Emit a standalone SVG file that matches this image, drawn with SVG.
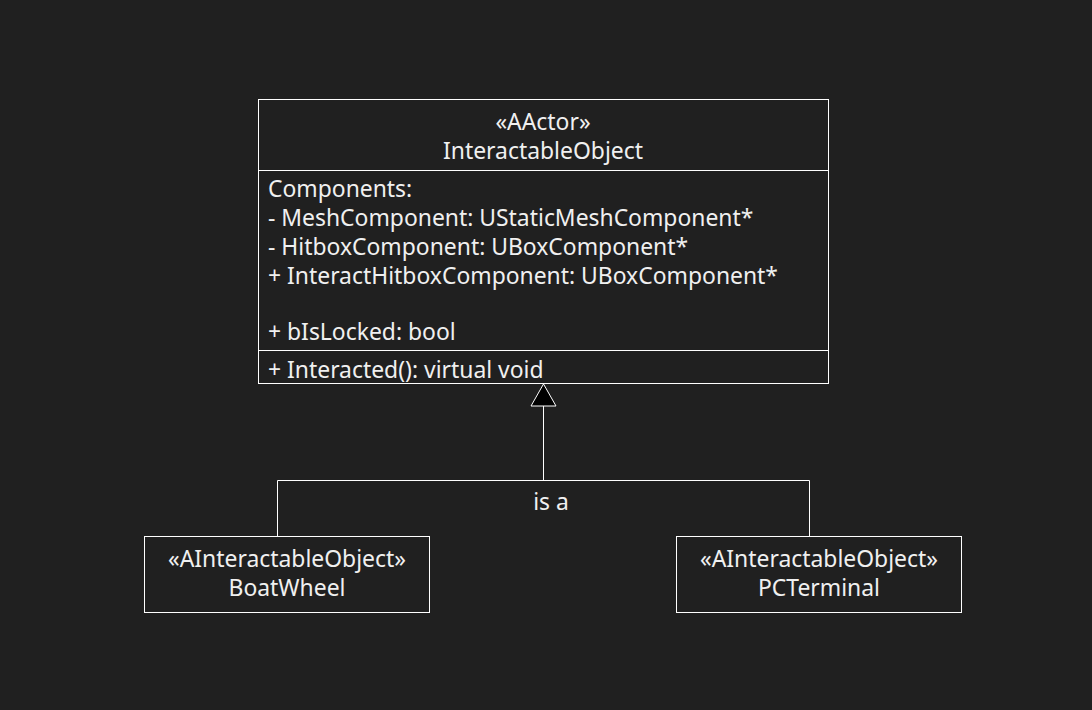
<svg xmlns="http://www.w3.org/2000/svg" width="1092" height="710" viewBox="0 0 1092 710">
<style>
.box{fill:#202020;stroke:#ffffff;stroke-width:1}
.t{font-family:"Noto Sans","Open Sans",sans-serif;font-size:22.9px;fill:#f0f0f0}
.c{text-anchor:middle}
.ln{stroke:#ffffff;stroke-width:1;fill:none}
</style>
<rect width="1092" height="710" fill="#202020"/>
<g id="connectors">
<path class="ln" d="M543.5,480 V406"/>
<path d="M543.5,384 L556,406 L531,406 Z" fill="#000000" stroke="#ffffff" stroke-width="1"/>
<path class="ln" d="M277.5,536 V480.5 H809.5 V536"/>
<text class="t c" x="551" y="510">is a</text>
</g>
<g id="InteractableObject">
<rect class="box" x="258.5" y="99.5" width="570" height="284"/>
<path class="ln" d="M258.5,170.5 H828.5 M258.5,350.5 H828.5"/>
<text class="t c" x="543" y="130">«AActor»</text>
<text class="t c" x="543" y="159">InteractableObject</text>
<text class="t" x="268" y="197">Components:</text>
<text class="t" x="268" y="226">- MeshComponent: UStaticMeshComponent*</text>
<text class="t" x="268" y="255">- HitboxComponent: UBoxComponent*</text>
<text class="t" x="268" y="284">+ InteractHitboxComponent: UBoxComponent*</text>
<text class="t" x="268" y="340">+ bIsLocked: bool</text>
<text class="t" x="268" y="378">+ Interacted(): virtual void</text>
</g>
<g id="BoatWheel">
<rect class="box" x="144.5" y="536.5" width="285" height="76"/>
<text class="t c" x="287" y="567">«AInteractableObject»</text>
<text class="t c" x="287" y="596">BoatWheel</text>
</g>
<g id="PCTerminal">
<rect class="box" x="676.5" y="536.5" width="285" height="76"/>
<text class="t c" x="819" y="567">«AInteractableObject»</text>
<text class="t c" x="819" y="596">PCTerminal</text>
</g>
</svg>
